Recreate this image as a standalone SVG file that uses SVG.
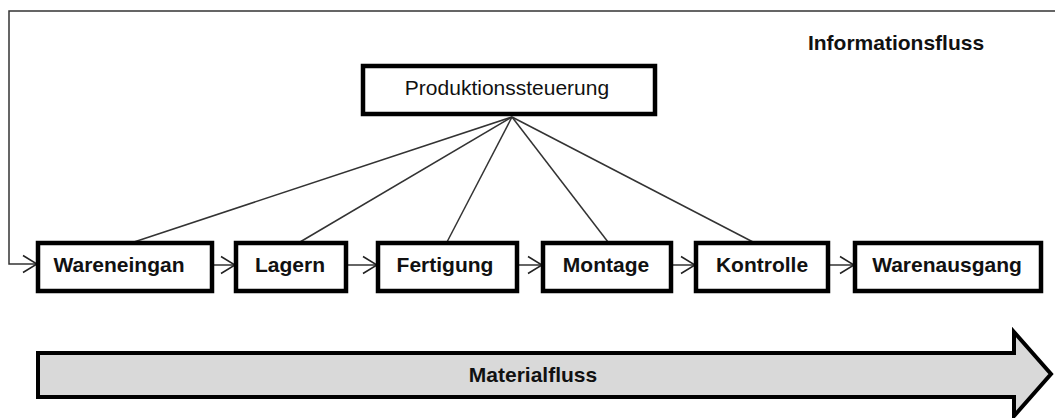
<svg xmlns="http://www.w3.org/2000/svg" width="1055" height="418" viewBox="0 0 1055 418">
  <defs>
    <marker id="open" viewBox="0 0 16 20" refX="15" refY="10" markerWidth="16" markerHeight="20" markerUnits="userSpaceOnUse" orient="auto">
      <path d="M1,1.5 L15,10 L1,18.5" fill="none" stroke="#222" stroke-width="1.5"/>
    </marker>
    <style>
      .box { fill: #fff; stroke: #000; stroke-width: 4.5; }
      .lbl { font-family: "Liberation Sans", Arial, sans-serif; font-size: 21px; font-weight: bold; fill: #111; text-anchor: middle; }
      .plain { font-family: "Liberation Sans", Arial, sans-serif; font-size: 21px; fill: #111; text-anchor: middle; }
      .ln { stroke: #333; stroke-width: 1.5; fill: none; }
    </style>
  </defs>
  <rect width="1055" height="418" fill="#fff"/>

  <text class="lbl" x="896" y="50">Informationsfluss</text>

  <g id="connectors">
    <!-- feedback loop from the top edge into the goods receipt -->
    <polyline class="ln" points="1055,11 9,11 9,264 37,264" marker-end="url(#open)"/>
    <!-- control lines from production control -->
    <line class="ln" x1="512" y1="117" x2="134" y2="242"/>
    <line class="ln" x1="512" y1="117" x2="300" y2="242"/>
    <line class="ln" x1="512" y1="117" x2="447" y2="242"/>
    <line class="ln" x1="512" y1="117" x2="608" y2="242"/>
    <line class="ln" x1="512" y1="117" x2="753" y2="242"/>
    <!-- material chain -->
    <line class="ln" x1="213" y1="265" x2="235" y2="265" marker-end="url(#open)"/>
    <line class="ln" x1="347" y1="265" x2="377" y2="265" marker-end="url(#open)"/>
    <line class="ln" x1="518" y1="265" x2="542" y2="265" marker-end="url(#open)"/>
    <line class="ln" x1="672" y1="265" x2="695" y2="265" marker-end="url(#open)"/>
    <line class="ln" x1="829" y1="265" x2="854" y2="265" marker-end="url(#open)"/>
  </g>

  <g id="produktionssteuerung">
    <rect class="box" x="363" y="66" width="292" height="48"/>
    <text class="plain" x="507" y="95">Produktionssteuerung</text>
  </g>

  <g id="wareneingang">
    <rect class="box" x="38" y="243" width="174" height="48"/>
    <text class="lbl" x="119" y="272">Wareneingan</text>
  </g>
  <g id="lagern">
    <rect class="box" x="236" y="243" width="110" height="48"/>
    <text class="lbl" x="290" y="272">Lagern</text>
  </g>
  <g id="fertigung">
    <rect class="box" x="378" y="243" width="139" height="48"/>
    <text class="lbl" x="445" y="272">Fertigung</text>
  </g>
  <g id="montage">
    <rect class="box" x="543" y="243" width="128" height="48"/>
    <text class="lbl" x="606" y="272">Montage</text>
  </g>
  <g id="kontrolle">
    <rect class="box" x="696" y="243" width="132" height="48"/>
    <text class="lbl" x="762" y="272">Kontrolle</text>
  </g>
  <g id="warenausgang">
    <rect class="box" x="855" y="243" width="186" height="48"/>
    <text class="lbl" x="947" y="272">Warenausgang</text>
  </g>

  <g id="materialfluss">
    <path d="M38,353 L1014,353 L1014,332 L1051,374 L1014,416 L1014,397 L38,397 Z" fill="#d9d9d9" stroke="#000" stroke-width="4" stroke-linejoin="miter"/>
    <text class="lbl" x="533" y="382">Materialfluss</text>
  </g>
</svg>
